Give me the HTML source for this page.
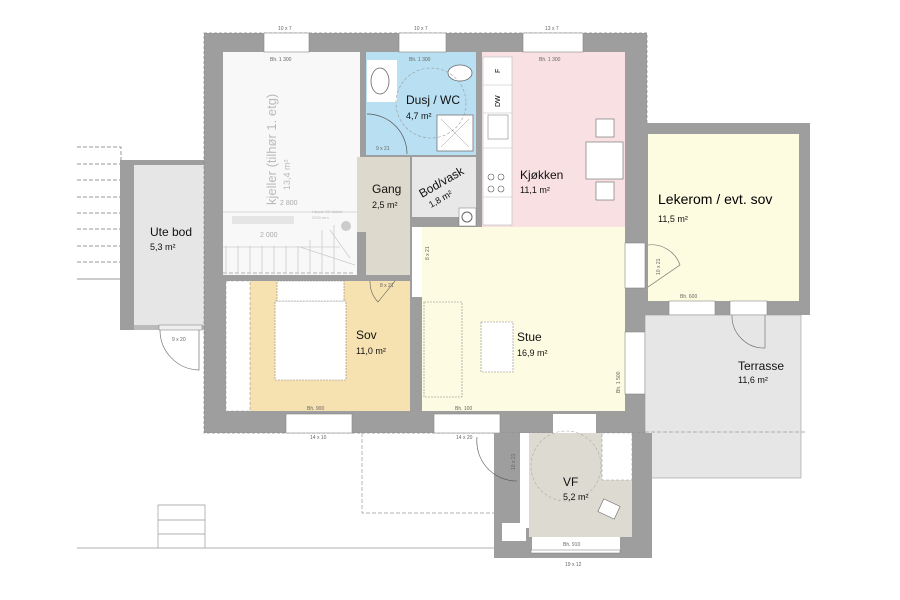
<!DOCTYPE html>
<html><head><meta charset="utf-8"><style>
html,body{margin:0;padding:0;background:#fff;}
svg{display:block;font-family:"Liberation Sans",sans-serif;}
.s{font-size:5px;fill:#666;}
.l{font-size:12px;fill:#111;}
.a{font-size:9px;fill:#111;}
</style></head><body>
<svg width="900" height="600" viewBox="0 0 900 600" xmlns="http://www.w3.org/2000/svg">
<g stroke="#999" stroke-width="1" stroke-dasharray="4,2" fill="none">
<path d="M77 147H121V160"/><path d="M77 164H121"/><path d="M77 180H121"/><path d="M77 197H121"/><path d="M77 213H121"/><path d="M77 229H121"/><path d="M77 246H121"/><path d="M77 262H121"/><path d="M77 279H121" stroke-dasharray="none"/>
</g>
<!-- Ute bod -->
<rect x="120" y="160" width="84" height="170" fill="#9e9e9e"/>
<rect x="134" y="165" width="70" height="160" fill="#e6e6e6"/>
<rect x="134" y="325" width="70" height="5" fill="#bbb"/>
<rect x="159" y="325" width="43" height="5" fill="#eee" stroke="#777" stroke-width="0.5"/>
<path d="M160 330 A40 40 0 0 0 199 370 V330" fill="none" stroke="#777" stroke-width="0.7"/>
<text class="l" x="150" y="236">Ute bod</text>
<text class="a" x="150" y="250">5,3 m²</text>
<text class="s" x="172" y="341">9 x 20</text>
<!-- main outer wall -->
<rect x="204" y="33" width="443" height="400" fill="#9e9e9e"/>
<rect x="204" y="33" width="443" height="400" fill="none" stroke="#888" stroke-dasharray="3,2" stroke-width="0.7"/>
<!-- kjeller -->
<rect x="223" y="52" width="137" height="223" fill="#f8f8f8"/>
<g stroke="#ccc" stroke-width="0.8" fill="none">
<path d="M223 212H360"/><path d="M223 247H340"/>
<path d="M223 273H355" stroke-dasharray="4,2" stroke="#999"/>
<path d="M226 246V272M238 246V272M250 246V272M262 246V272M274 246V272M286 246V272M298 246V272M310 240V272M322 230V272M334 225V272"/>
<path d="M300 247L355 265M330 230L350 258"/>
</g>
<rect x="232" y="216" width="62" height="8" fill="#e5e5e5"/>
<circle cx="346" cy="226" r="5" fill="#ccc"/>
<text class="s" x="270" y="61" fill="#aaa">Bh. 1 300</text>
<text class="s" x="280" y="205" style="fill:#aaa;font-size:7px">2 800</text>
<text class="s" x="260" y="237" style="fill:#aaa;font-size:7px">2 000</text>
<text class="s" x="312" y="213" style="fill:#bbb;font-size:4px">Høyde OK dekke</text>
<text class="s" x="312" y="219" style="fill:#bbb;font-size:4px">2530 mm</text>
<text transform="translate(276,205) rotate(-90)" style="font-size:13px;fill:#bbb">kjeller (tilhør 1. etg)</text>
<text transform="translate(290,190) rotate(-90)" style="font-size:9px;fill:#bbb">13,4 m²</text>
<!-- Dusj -->
<rect x="366" y="52" width="110" height="103" fill="#b8dff2"/>
<rect x="367" y="60" width="30" height="42" fill="#fff"/>
<ellipse cx="380" cy="81" rx="9" ry="13" fill="#fff" stroke="#666" stroke-width="0.8"/>
<ellipse cx="460" cy="73" rx="12" ry="8" fill="#fff" stroke="#666" stroke-width="0.8"/>
<rect x="437" y="115" width="36" height="36" fill="#fff" stroke="#777" stroke-width="0.8"/>
<path d="M441 119L469 147M469 119L441 147" stroke="#999" stroke-width="0.5"/>
<circle cx="431" cy="103" r="35" fill="none" stroke="#999" stroke-width="0.6" stroke-dasharray="3,2"/>
<path d="M367 114A40 40 0 0 1 407 154" fill="none" stroke="#555" stroke-width="0.7"/>
<text class="s" x="409" y="61">Bh. 1 300</text>
<text class="l" x="406" y="104">Dusj / WC</text>
<text class="a" x="406" y="119">4,7 m²</text>
<text class="s" x="376" y="150">9 x 21</text>
<!-- Gang -->
<rect x="357" y="157" width="53" height="118" fill="#ddd9cc"/>
<rect x="357" y="232" width="9" height="43" fill="#9e9e9e"/>
<text class="l" x="372" y="193">Gang</text>
<text class="a" x="372" y="208">2,5 m²</text>
<!-- Bod/vask -->
<rect x="412" y="157" width="64" height="60" fill="#e8e8e8"/>
<rect x="459" y="208" width="17" height="18" fill="#fff" stroke="#777" stroke-width="0.5"/>
<circle cx="467" cy="217" r="5" fill="none" stroke="#666"/>
<text transform="translate(422,198) rotate(-30)" class="l">Bod/vask</text>
<text transform="translate(431,208) rotate(-30)" class="a">1,8 m²</text>
<!-- Kitchen -->
<rect x="482" y="52" width="143" height="175" fill="#f9e0e3"/>
<rect x="483" y="57" width="29" height="168" fill="#fff" stroke="#bbb" stroke-width="0.6"/>
<path d="M483 85H512M483 113H512M483 148H512M483 197H512" stroke="#bbb" stroke-width="0.6"/>
<text transform="translate(500,73) rotate(-90)" style="font-size:7px">F</text>
<text transform="translate(500,107) rotate(-90)" style="font-size:7px">DW</text>
<rect x="488" y="115" width="20" height="24" fill="#fff" stroke="#888" stroke-width="0.6"/>
<g fill="none" stroke="#555" stroke-width="0.6"><circle cx="491" cy="177" r="3"/><circle cx="501" cy="177" r="3"/><circle cx="491" cy="189" r="3"/><circle cx="501" cy="189" r="3"/></g>
<rect x="586" y="142" width="37" height="37" fill="#fff" stroke="#666" stroke-width="0.6"/>
<rect x="596" y="119" width="18" height="18" fill="#fff" stroke="#666" stroke-width="0.6"/>
<rect x="596" y="182" width="18" height="18" fill="#fff" stroke="#666" stroke-width="0.6"/>
<text class="s" x="539" y="61">Bh. 1 300</text>
<text class="l" x="520" y="179">Kjøkken</text>
<text class="a" x="520" y="193">11,1 m²</text>
<!-- Stue -->
<rect x="422" y="227" width="203" height="184" fill="#fdfbe1"/>
<rect x="412" y="227" width="10" height="70" fill="#fff"/>
<rect x="424" y="302" width="38" height="95" fill="#fdfbe1" stroke="#888" stroke-width="0.6" stroke-dasharray="2,1"/>
<rect x="481" y="322" width="32" height="50" fill="#fff" stroke="#888" stroke-width="0.6" stroke-dasharray="2,1"/>
<text class="l" x="517" y="341">Stue</text>
<text class="a" x="517" y="356">16,9 m²</text>
<text class="s" x="455" y="410">Bh. 100</text>
<text transform="translate(620,393) rotate(-90)" class="s">Bh. 1 500</text>
<text transform="translate(429,260) rotate(-90)" class="s">8 x 21</text>
<!-- Sov -->
<rect x="226" y="281" width="184" height="130" fill="#f6e1b0"/>
<rect x="226" y="281" width="24" height="130" fill="#fff" stroke="#999" stroke-width="0.6" stroke-dasharray="3,2"/>
<rect x="275" y="301" width="71" height="79" fill="#fff" stroke="#888" stroke-width="0.6" stroke-dasharray="2,1"/>
<rect x="277" y="281" width="67" height="20" fill="#fff" stroke="#888" stroke-width="0.6" stroke-dasharray="2,1"/>
<path d="M370 281A30 30 0 0 0 378 302L395 281" fill="none" stroke="#666" stroke-width="0.6"/>
<text class="s" x="380" y="287">8 x 21</text>
<text class="l" x="356" y="339">Sov</text>
<text class="a" x="356" y="354">11,0 m²</text>
<text class="s" x="307" y="410">Bh. 900</text>
<!-- windows main -->
<g fill="#fff" stroke="#888" stroke-width="0.6">
<rect x="264" y="33" width="45" height="19"/><rect x="399" y="33" width="47" height="19"/><rect x="523" y="33" width="60" height="19"/>
<rect x="286" y="414" width="66" height="19"/><rect x="434" y="414" width="66" height="19"/>
<rect x="553" y="414" width="43" height="19" stroke="none"/>
<rect x="625" y="243" width="20" height="45"/><rect x="625" y="332" width="20" height="62"/>
</g>
<text class="s" x="278" y="30">10 x 7</text>
<text class="s" x="414" y="30">10 x 7</text>
<text class="s" x="545" y="30">13 x 7</text>
<text class="s" x="310" y="439">14 x 10</text>
<text class="s" x="456" y="439">14 x 20</text>
<!-- Lekerom -->
<rect x="646" y="123" width="164" height="192" fill="#9e9e9e"/>
<rect x="648" y="134" width="151" height="167" fill="#fdfbe0"/>
<rect x="669" y="301" width="46" height="14" fill="#fff" stroke="#888" stroke-width="0.6"/>
<rect x="730" y="301" width="37" height="14" fill="#fff" stroke="#888" stroke-width="0.6"/>
<path d="M648 245A30 30 0 0 1 680 265L648 287" fill="none" stroke="#666" stroke-width="0.6"/>
<text style="font-size:14px" x="658" y="204">Lekerom / evt. sov</text>
<text class="a" x="658" y="222">11,5 m²</text>
<text class="s" x="680" y="298">Bh. 600</text>
<text class="s" x="682" y="322">10 x 10</text>
<text class="s" x="742" y="322">8 x 19</text>
<text transform="translate(660,275) rotate(-90)" class="s">10 x 21</text>
<!-- Terrasse -->
<rect x="645" y="315" width="156" height="163" fill="#e6e6e6" stroke="#999" stroke-width="0.6"/>
<path d="M645 432H805" stroke="#999" stroke-dasharray="4,2" stroke-width="0.7"/>
<path d="M732 315A32 32 0 0 0 765 348V315" fill="none" stroke="#666" stroke-width="0.6"/>
<text class="l" x="738" y="370">Terrasse</text>
<text class="a" x="738" y="383">11,6 m²</text>
<!-- VF -->
<rect x="494" y="433" width="158" height="125" fill="#9e9e9e"/>
<rect x="520" y="433" width="9" height="95" fill="#fff"/>
<rect x="529" y="433" width="103" height="104" fill="#dddbd1"/>
<rect x="602" y="433" width="30" height="47" fill="#fff" stroke="#999" stroke-width="0.6" stroke-dasharray="3,2"/>
<rect x="532" y="537" width="88" height="13" fill="#fff"/>
<rect x="531" y="550" width="89" height="3" fill="#fff" stroke="#777" stroke-width="0.5"/>
<rect x="502" y="523" width="24" height="18" fill="#fff"/>
<circle cx="566" cy="466" r="35" fill="none" stroke="#aaa" stroke-width="0.6" stroke-dasharray="3,2"/>
<rect x="600" y="502" width="18" height="14" fill="#fff" stroke="#666" stroke-width="0.6" transform="rotate(25 609 509)"/>
<path d="M477 437A40 40 0 0 0 517 481" fill="none" stroke="#555" stroke-width="0.6"/>
<text class="l" x="563" y="486">VF</text>
<text class="a" x="563" y="500">5,2 m²</text>
<text class="s" x="563" y="546">Bh. 910</text>
<text class="s" x="565" y="566">19 x 12</text>
<text transform="translate(515,470) rotate(-90)" class="s">10 x 21</text>
<g fill="none" stroke="#999" stroke-width="0.7">
<path d="M362 433V513H494" stroke-dasharray="4,2"/>
<path d="M77 548H494"/>
<path d="M158 548V505H205V548M158 520H205M158 534H205"/>
</g>
</svg>
</body></html>
